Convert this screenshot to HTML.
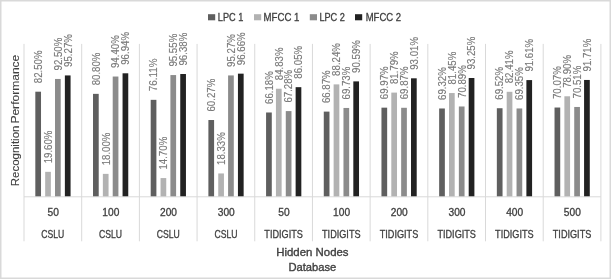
<!DOCTYPE html>
<html><head><meta charset="utf-8"><title>Recognition Performance</title><style>
html,body{margin:0;padding:0;background:#fff;overflow:hidden}
svg{display:block;will-change:transform}
text{font-family:"Liberation Sans",sans-serif}
</style></head><body>
<svg width="611" height="279" viewBox="0 0 611 279">
<rect x="0" y="0" width="611" height="279" fill="#fff"/>
<rect x="0.75" y="0.75" width="609.5" height="277.5" fill="none" stroke="#d9d9d9" stroke-width="1.5"/>
<path d="M24 43.9V241.3M81.69 43.9V241.3M139.38 43.9V241.3M197.07 43.9V241.3M254.76 43.9V241.3M312.45 43.9V241.3M370.14 43.9V241.3M427.83 43.9V241.3M485.52 43.9V241.3M543.21 43.9V241.3M600.9 43.9V241.3" stroke="#d9d9d9" stroke-width="1" fill="none"/>
<rect x="35.32" y="91.7" width="5.7" height="105.11" fill="#5f5f5f"/>
<rect x="45.17" y="171.83" width="5.7" height="24.97" fill="#b2b2b2"/>
<rect x="55.02" y="78.96" width="5.7" height="117.84" fill="#8b8b8b"/>
<rect x="64.87" y="75.43" width="5.7" height="121.37" fill="#222222"/>
<rect x="93.01" y="93.86" width="5.7" height="102.94" fill="#5f5f5f"/>
<rect x="102.86" y="173.87" width="5.7" height="22.93" fill="#b2b2b2"/>
<rect x="112.71" y="76.53" width="5.7" height="120.27" fill="#8b8b8b"/>
<rect x="122.56" y="73.3" width="5.7" height="123.5" fill="#222222"/>
<rect x="150.7" y="99.84" width="5.7" height="96.96" fill="#5f5f5f"/>
<rect x="160.55" y="178.07" width="5.7" height="18.73" fill="#b2b2b2"/>
<rect x="170.4" y="75.07" width="5.7" height="121.73" fill="#8b8b8b"/>
<rect x="180.25" y="74.01" width="5.7" height="122.79" fill="#222222"/>
<rect x="208.39" y="120.02" width="5.7" height="76.78" fill="#5f5f5f"/>
<rect x="218.24" y="173.45" width="5.7" height="23.35" fill="#b2b2b2"/>
<rect x="228.09" y="75.43" width="5.7" height="121.37" fill="#8b8b8b"/>
<rect x="237.94" y="73.66" width="5.7" height="123.14" fill="#222222"/>
<rect x="266.08" y="112.49" width="5.7" height="84.31" fill="#5f5f5f"/>
<rect x="275.93" y="88.73" width="5.7" height="108.07" fill="#b2b2b2"/>
<rect x="285.78" y="111.09" width="5.7" height="85.71" fill="#8b8b8b"/>
<rect x="295.63" y="87.17" width="5.7" height="109.63" fill="#222222"/>
<rect x="323.77" y="111.61" width="5.7" height="85.19" fill="#5f5f5f"/>
<rect x="333.62" y="84.38" width="5.7" height="112.42" fill="#b2b2b2"/>
<rect x="343.47" y="107.96" width="5.7" height="88.84" fill="#8b8b8b"/>
<rect x="353.32" y="81.39" width="5.7" height="115.41" fill="#222222"/>
<rect x="381.46" y="107.66" width="5.7" height="89.14" fill="#5f5f5f"/>
<rect x="391.31" y="92.6" width="5.7" height="104.2" fill="#b2b2b2"/>
<rect x="401.16" y="107.79" width="5.7" height="89.01" fill="#8b8b8b"/>
<rect x="411.01" y="78.31" width="5.7" height="118.49" fill="#222222"/>
<rect x="439.15" y="108.49" width="5.7" height="88.31" fill="#5f5f5f"/>
<rect x="449" y="93.03" width="5.7" height="103.77" fill="#b2b2b2"/>
<rect x="458.85" y="106.49" width="5.7" height="90.31" fill="#8b8b8b"/>
<rect x="468.7" y="78" width="5.7" height="118.8" fill="#222222"/>
<rect x="496.84" y="108.23" width="5.7" height="88.57" fill="#5f5f5f"/>
<rect x="506.69" y="91.81" width="5.7" height="104.99" fill="#b2b2b2"/>
<rect x="516.54" y="108.45" width="5.7" height="88.35" fill="#8b8b8b"/>
<rect x="526.39" y="80.09" width="5.7" height="116.71" fill="#222222"/>
<rect x="554.53" y="107.53" width="5.7" height="89.27" fill="#5f5f5f"/>
<rect x="564.38" y="96.28" width="5.7" height="100.52" fill="#b2b2b2"/>
<rect x="574.23" y="106.97" width="5.7" height="89.83" fill="#8b8b8b"/>
<rect x="584.08" y="79.96" width="5.7" height="116.84" fill="#222222"/>
<path d="M24 196.8H600.9" stroke="#d9d9d9" stroke-width="1" fill="none"/>
<g font-size="10.8" fill="#7a7a7a" stroke="#7a7a7a" stroke-width="0.15">
<text transform="translate(41.97 83.2) rotate(-90)" textLength="32.8" lengthAdjust="spacingAndGlyphs">82.50%</text>
<text transform="translate(51.82 163.33) rotate(-90)" textLength="32.8" lengthAdjust="spacingAndGlyphs">19.60%</text>
<text transform="translate(61.67 70.46) rotate(-90)" textLength="32.8" lengthAdjust="spacingAndGlyphs">92.50%</text>
<text transform="translate(71.52 66.93) rotate(-90)" textLength="32.8" lengthAdjust="spacingAndGlyphs">95.27%</text>
<text transform="translate(99.66 85.36) rotate(-90)" textLength="32.8" lengthAdjust="spacingAndGlyphs">80.80%</text>
<text transform="translate(109.51 165.37) rotate(-90)" textLength="32.8" lengthAdjust="spacingAndGlyphs">18.00%</text>
<text transform="translate(119.36 68.03) rotate(-90)" textLength="32.8" lengthAdjust="spacingAndGlyphs">94.40%</text>
<text transform="translate(129.21 64.8) rotate(-90)" textLength="32.8" lengthAdjust="spacingAndGlyphs">96.94%</text>
<text transform="translate(157.35 91.34) rotate(-90)" textLength="32.8" lengthAdjust="spacingAndGlyphs">76.11%</text>
<text transform="translate(167.2 169.57) rotate(-90)" textLength="32.8" lengthAdjust="spacingAndGlyphs">14.70%</text>
<text transform="translate(177.05 66.57) rotate(-90)" textLength="32.8" lengthAdjust="spacingAndGlyphs">95.55%</text>
<text transform="translate(186.9 65.51) rotate(-90)" textLength="32.8" lengthAdjust="spacingAndGlyphs">96.38%</text>
<text transform="translate(215.04 111.52) rotate(-90)" textLength="32.8" lengthAdjust="spacingAndGlyphs">60.27%</text>
<text transform="translate(224.89 164.95) rotate(-90)" textLength="32.8" lengthAdjust="spacingAndGlyphs">18.33%</text>
<text transform="translate(234.74 66.93) rotate(-90)" textLength="32.8" lengthAdjust="spacingAndGlyphs">95.27%</text>
<text transform="translate(244.59 65.16) rotate(-90)" textLength="32.8" lengthAdjust="spacingAndGlyphs">96.66%</text>
<text transform="translate(272.73 103.99) rotate(-90)" textLength="32.8" lengthAdjust="spacingAndGlyphs">66.18%</text>
<text transform="translate(282.58 80.23) rotate(-90)" textLength="32.8" lengthAdjust="spacingAndGlyphs">84.83%</text>
<text transform="translate(292.43 102.59) rotate(-90)" textLength="32.8" lengthAdjust="spacingAndGlyphs">67.28%</text>
<text transform="translate(302.28 78.67) rotate(-90)" textLength="32.8" lengthAdjust="spacingAndGlyphs">86.05%</text>
<text transform="translate(330.42 103.11) rotate(-90)" textLength="32.8" lengthAdjust="spacingAndGlyphs">66.87%</text>
<text transform="translate(340.27 75.88) rotate(-90)" textLength="32.8" lengthAdjust="spacingAndGlyphs">88.24%</text>
<text transform="translate(350.12 99.46) rotate(-90)" textLength="32.8" lengthAdjust="spacingAndGlyphs">69.73%</text>
<text transform="translate(359.97 72.89) rotate(-90)" textLength="32.8" lengthAdjust="spacingAndGlyphs">90.59%</text>
<text transform="translate(388.11 99.16) rotate(-90)" textLength="32.8" lengthAdjust="spacingAndGlyphs">69.97%</text>
<text transform="translate(397.96 84.1) rotate(-90)" textLength="32.8" lengthAdjust="spacingAndGlyphs">81.79%</text>
<text transform="translate(407.81 99.29) rotate(-90)" textLength="32.8" lengthAdjust="spacingAndGlyphs">69.87%</text>
<text transform="translate(417.66 69.81) rotate(-90)" textLength="32.8" lengthAdjust="spacingAndGlyphs">93.01%</text>
<text transform="translate(445.8 99.99) rotate(-90)" textLength="32.8" lengthAdjust="spacingAndGlyphs">69.32%</text>
<text transform="translate(455.65 84.53) rotate(-90)" textLength="32.8" lengthAdjust="spacingAndGlyphs">81.45%</text>
<text transform="translate(465.5 97.99) rotate(-90)" textLength="32.8" lengthAdjust="spacingAndGlyphs">70.89%</text>
<text transform="translate(475.35 69.5) rotate(-90)" textLength="32.8" lengthAdjust="spacingAndGlyphs">93.25%</text>
<text transform="translate(503.49 99.73) rotate(-90)" textLength="32.8" lengthAdjust="spacingAndGlyphs">69.52%</text>
<text transform="translate(513.34 83.31) rotate(-90)" textLength="32.8" lengthAdjust="spacingAndGlyphs">82.41%</text>
<text transform="translate(523.19 99.95) rotate(-90)" textLength="32.8" lengthAdjust="spacingAndGlyphs">69.35%</text>
<text transform="translate(533.04 71.59) rotate(-90)" textLength="32.8" lengthAdjust="spacingAndGlyphs">91.61%</text>
<text transform="translate(561.18 99.03) rotate(-90)" textLength="32.8" lengthAdjust="spacingAndGlyphs">70.07%</text>
<text transform="translate(571.03 87.78) rotate(-90)" textLength="32.8" lengthAdjust="spacingAndGlyphs">78.90%</text>
<text transform="translate(580.88 98.47) rotate(-90)" textLength="32.8" lengthAdjust="spacingAndGlyphs">70.51%</text>
<text transform="translate(590.73 71.46) rotate(-90)" textLength="32.8" lengthAdjust="spacingAndGlyphs">91.71%</text>
</g>
<g font-size="10.4" fill="#404040" stroke="#404040" stroke-width="0.3" text-anchor="middle">
<text x="53.14" y="215.6" font-size="10.1" textLength="11.4" lengthAdjust="spacingAndGlyphs">50</text>
<text x="52.84" y="237.8" textLength="23" lengthAdjust="spacingAndGlyphs">CSLU</text>
<text x="110.83" y="215.6" font-size="10.1" textLength="17" lengthAdjust="spacingAndGlyphs">100</text>
<text x="110.53" y="237.8" textLength="23" lengthAdjust="spacingAndGlyphs">CSLU</text>
<text x="168.53" y="215.6" font-size="10.1" textLength="17" lengthAdjust="spacingAndGlyphs">200</text>
<text x="168.22" y="237.8" textLength="23" lengthAdjust="spacingAndGlyphs">CSLU</text>
<text x="226.22" y="215.6" font-size="10.1" textLength="17" lengthAdjust="spacingAndGlyphs">300</text>
<text x="225.91" y="237.8" textLength="23" lengthAdjust="spacingAndGlyphs">CSLU</text>
<text x="283.91" y="215.6" font-size="10.1" textLength="11.4" lengthAdjust="spacingAndGlyphs">50</text>
<text x="283.61" y="237.8" textLength="38.5" lengthAdjust="spacingAndGlyphs">TIDIGITS</text>
<text x="341.59" y="215.6" font-size="10.1" textLength="17" lengthAdjust="spacingAndGlyphs">100</text>
<text x="341.29" y="237.8" textLength="38.5" lengthAdjust="spacingAndGlyphs">TIDIGITS</text>
<text x="399.29" y="215.6" font-size="10.1" textLength="17" lengthAdjust="spacingAndGlyphs">200</text>
<text x="398.99" y="237.8" textLength="38.5" lengthAdjust="spacingAndGlyphs">TIDIGITS</text>
<text x="456.97" y="215.6" font-size="10.1" textLength="17" lengthAdjust="spacingAndGlyphs">300</text>
<text x="456.67" y="237.8" textLength="38.5" lengthAdjust="spacingAndGlyphs">TIDIGITS</text>
<text x="514.66" y="215.6" font-size="10.1" textLength="17" lengthAdjust="spacingAndGlyphs">400</text>
<text x="514.37" y="237.8" textLength="38.5" lengthAdjust="spacingAndGlyphs">TIDIGITS</text>
<text x="572.35" y="215.6" font-size="10.1" textLength="17" lengthAdjust="spacingAndGlyphs">500</text>
<text x="572.05" y="237.8" textLength="38.5" lengthAdjust="spacingAndGlyphs">TIDIGITS</text>
</g>
<g font-size="11.2" fill="#404040" stroke="#404040" stroke-width="0.35" text-anchor="middle">
<text x="312.4" y="255.6" textLength="72.3" lengthAdjust="spacingAndGlyphs">Hidden Nodes</text>
<text x="312.4" y="271" textLength="47.9" lengthAdjust="spacingAndGlyphs">Database</text>
<text transform="translate(18.6 186.2) rotate(-90)" textLength="60.6" lengthAdjust="spacingAndGlyphs" text-anchor="start" stroke-width="0.1" font-size="11.8">Recognition</text>
<text transform="translate(18.6 123.6) rotate(-90)" textLength="68.9" lengthAdjust="spacingAndGlyphs" text-anchor="start" stroke-width="0.1" font-size="11.8">Performance</text>
</g>
<rect x="208" y="14.2" width="7.2" height="6.1" fill="#5f5f5f"/>
<rect x="254" y="14.2" width="7.2" height="6.1" fill="#b2b2b2"/>
<rect x="309.8" y="14.2" width="7.2" height="6.1" fill="#8b8b8b"/>
<rect x="355" y="14.2" width="7.2" height="6.1" fill="#222222"/>
<g font-size="10.2" fill="#404040" stroke="#404040" stroke-width="0.3">
<text x="217.8" y="20.7" textLength="25.5" lengthAdjust="spacingAndGlyphs">LPC 1</text>
<text x="263.6" y="20.7" textLength="35.8" lengthAdjust="spacingAndGlyphs">MFCC 1</text>
<text x="319.4" y="20.7" textLength="25.5" lengthAdjust="spacingAndGlyphs">LPC 2</text>
<text x="365.7" y="20.7" textLength="35.3" lengthAdjust="spacingAndGlyphs">MFCC 2</text>
</g>
</svg>
</body></html>
